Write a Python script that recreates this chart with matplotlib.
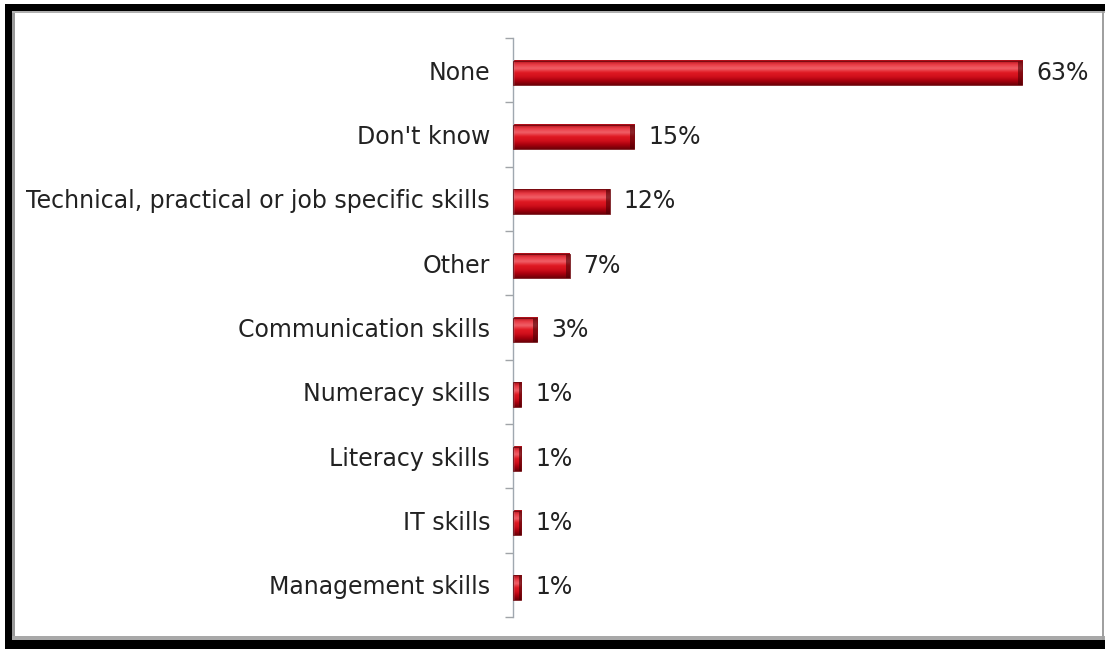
import matplotlib
matplotlib.use("Agg")
import matplotlib.pyplot as plt
import numpy as np
from matplotlib.colors import LinearSegmentedColormap
from matplotlib.patches import Rectangle

categories = ["None", "Don't know", "Technical, practical or job specific skills",
              "Other", "Communication skills", "Numeracy skills",
              "Literacy skills", "IT skills", "Management skills"]
values = [63, 15, 12, 7, 3, 1, 1, 1, 1]

W, H = 1105, 649
fig = plt.figure(figsize=(W / 100, H / 100), dpi=100)
fig.patch.set_facecolor("white")

ax = fig.add_axes([513 / W, 1 - 617 / H, 565.6 / W, 579 / H])

# glossy red shading for the bars (top -> bottom)
bar_cmap = LinearSegmentedColormap.from_list(
    "gloss", ["#a80a14", "#e83a44", "#f06068", "#e01822", "#d0101c",
              "#a8000e", "#6e0008"])
grad = np.linspace(0, 1, 64).reshape(-1, 1)
bar_h = 0.38
shift = 0.04

for i, v in enumerate(values):
    y0, y1 = i + shift - bar_h / 2, i + shift + bar_h / 2
    ax.imshow(grad, cmap=bar_cmap, aspect="auto", extent=[0, v, y1, y0],
              interpolation="bicubic", zorder=2)
    # darker cap on the right end of each bar
    cap = min(0.5, v * 0.3)
    ax.add_patch(Rectangle((v - cap, y0), cap, bar_h, facecolor="#4a0004",
                           alpha=0.6, edgecolor="none", zorder=3))
    ax.add_patch(Rectangle((0, y0), v, bar_h, facecolor="none",
                           edgecolor="#700a10", linewidth=0.6, zorder=4))
    ax.annotate(f"{v}%", xy=(v, i + shift), xytext=(10, 0),
                textcoords="offset points", ha="left", va="center",
                fontsize=17, color="#222222", family="DejaVu Sans")

ax.set_xlim(0, 70)
ax.set_ylim(len(categories) - 0.5, -0.5)

ax.set_yticks(range(len(categories)))
ax.set_yticklabels(categories, fontsize=17, color="#222222", family="DejaVu Sans")
ax.set_yticks(np.arange(-0.5, len(categories)), minor=True)
ax.tick_params(axis="y", which="major", length=0, pad=16.5)
ax.tick_params(axis="y", which="minor", length=6, color="#a0a4a8", width=1)
ax.set_xticks([])

for side in ["top", "right", "bottom"]:
    ax.spines[side].set_visible(False)
ax.spines["left"].set_color("#a0a8b0")
ax.spines["left"].set_linewidth(1)

# picture frame: thick black on left/top/bottom, thin grey on the right
def px_rect(x, y, w, h, color, z=10):
    fig.patches.append(Rectangle((x / W, 1 - (y + h) / H), w / W, h / H,
                                 transform=fig.transFigure, facecolor=color,
                                 edgecolor="none", zorder=z))

px_rect(0, 0, W, 4, "white")
px_rect(5, 4, W - 5, 7, "black")
px_rect(5, 4, 7, H - 4, "black")
px_rect(5, 640, W - 5, 9, "black")
px_rect(12, 11, 3, 629, "#9a9a9a")
px_rect(12, 11, W - 12, 2, "#b0b0b0")
px_rect(12, 636, W - 12, 4, "#a8a8a8")
px_rect(1102, 11, 2, 629, "#a0a0a0")

fig.savefig("out.png", dpi=100)
